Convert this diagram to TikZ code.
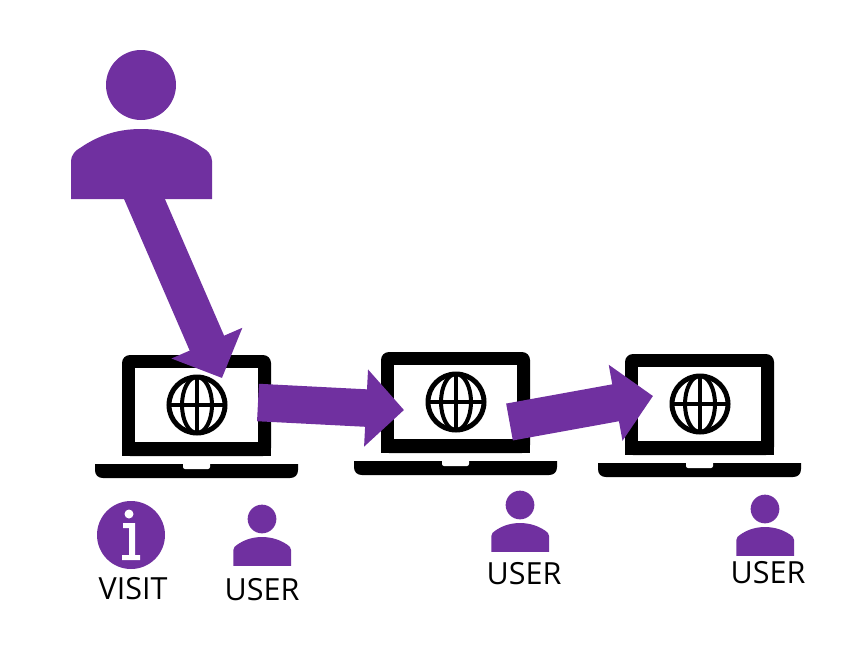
\documentclass[tikz,border=0pt]{standalone}
\usepackage{fontspec}
\setmainfont{Open Sans}
\usetikzlibrary{arrows.meta}
\definecolor{visitpurple}{HTML}{7030A0}
\tikzset{
	laptop/.pic={
		\fill[black,rounded corners=8] (122,101) -- (122,0) -- (271,0) -- (271,101) -- cycle;
		\fill[black] (122,90) rectangle (271,101);
		\fill[white] (135,13) rectangle (258,87);
		\draw[line width=5,black] (197,50) circle (28);
		\draw[line width=4,black] (197,50) ellipse (15 and 28);
		\draw[line width=4,black] (169,50) -- (225,50);
		\draw[line width=4,black] (197,22) -- (197,78);
		\fill[black] (95,109) -- (95,115) .. controls (95,120) and (98,123) .. (103,123) -- (290,123) .. controls (295,123) and (298,120) .. (298,115) -- (298,109) -- cycle;
		\fill[white,rounded corners=2] (183,107) -- (183,114) -- (210,114) -- (210,107) -- cycle;
	},
	person/.pic={
		\fill[visitpurple] (0,0) circle (35);
		\fill[visitpurple] (-70,114) -- (-70,76) .. controls (-70,70) and (-65,65) .. (-61,63)
			.. controls (-45,52) and (-26,44) .. (0,44)
			.. controls (26,44) and (46,52) .. (62,63)
			.. controls (66,65) and (71,70) .. (71,76) -- (71,114) -- cycle;
	},
	fatarrow/.style={visitpurple,line width=37.5,-{Triangle[length=38,width=75]}},
	label/.style={font=\fontsize{30.5}{36}\selectfont,text=black,inner sep=0},
}
\begin{document}
\begin{tikzpicture}[x=1pt,y=-1pt]
	\useasboundingbox (0,0) rectangle (864,651);
	% laptops
	\pic at (0,355) {laptop};
	\pic at (259,352) {laptop};
	\pic at (503,354) {laptop};
	% arrow ends
	\coordinate (visitStart) at (134.5,176);
	\coordinate (visitEnd) at (222,378);
	\coordinate (firstStart) at (258,402.5);
	\coordinate (firstEnd) at (404,410);
	\coordinate (secondStart) at (509.5,422);
	\coordinate (secondEnd) at (653,396);
	\draw[fatarrow] (visitStart) -- (visitEnd);
	\draw[fatarrow] (firstStart) -- (firstEnd);
	\draw[fatarrow] (secondStart) -- (secondEnd);
	% people
	\pic at (141,85) {person};
	\pic[scale=.41] at (262,519) {person};
	\pic[scale=.41] at (520,505) {person};
	\pic[scale=.41] at (765,509) {person};
	% info icon
	\fill[visitpurple] (131,535) circle (34);
	\fill[white] (129,514) circle (4.5);
	\fill[white] (123,523) -- (135,523) -- (135,555) -- (140,555) -- (140,560) -- (122,560) -- (122,555) -- (129,555) -- (129,528) -- (123,528) -- cycle;
	% labels
	\node[label] (visitText) at (133,589) {VISIT};
	\node[label] (userA) at (262,590) {USER};
	\node[label] (userB) at (524,574) {USER};
	\node[label] (userC) at (768,573) {USER};
\end{tikzpicture}
\end{document}
